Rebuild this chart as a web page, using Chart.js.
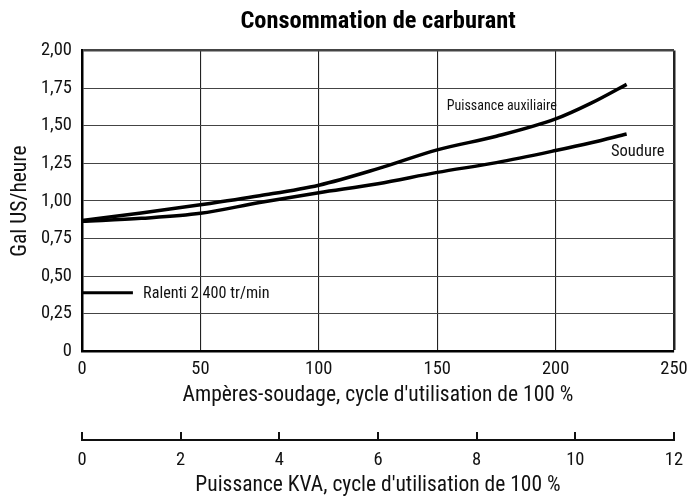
<!DOCTYPE html>
<html>
<head>
<meta charset="utf-8">
<script src="https://cdn.jsdelivr.net/npm/chart.js@4/dist/chart.umd.min.js"></script>
<style>
  html, body { margin: 0; padding: 0; background: #fff; }
  #wrap { width: 689px; height: 496px; }
</style>
</head>
<body>
<div id="wrap"><canvas id="c" width="689" height="496"></canvas></div>
<script>
// ---- Data ----
const ampsX      = [0, 25, 50, 75, 100, 125, 150, 175, 200, 215, 230];
const auxPower   = [0.87, 0.92, 0.975, 1.035, 1.105, 1.215, 1.34, 1.43, 1.545, 1.65, 1.775];
const welding    = [0.865, 0.885, 0.918, 0.99, 1.055, 1.115, 1.19, 1.255, 1.335, 1.387, 1.445];
const idleX      = [0, 21.5];
const idleY      = [0.39, 0.39];
const yTicks     = [0, 0.25, 0.5, 0.75, 1.0, 1.25, 1.5, 1.75, 2.0];
const ampTicks   = [0, 50, 100, 150, 200, 250];
const kvaTicks   = [0, 2, 4, 6, 8, 10, 12];
const labelTexts = ['Puissance auxiliaire', 'Soudure', 'Ralenti 2 400 tr/min'];

const FONT = "'Roboto Condensed', 'DejaVu Sans Condensed', sans-serif";

const toPts = (xs, ys) => xs.map((x, i) => ({ x: x, y: ys[i] }));

// Annotation labels (anchored in data coordinates)
const annotations = [
  { text: labelTexts[0], x: 154, y: 1.625, align: 'left',  size: 14 },
  { text: labelTexts[1], x: 246, y: 1.325, align: 'right', size: 16.5 },
  { text: labelTexts[2], x: 25.8, y: 0.38, align: 'left',  size: 16.2 }
];

const extras = {
  id: 'extras',
  afterDatasetsDraw(chart) {
    const ctx = chart.ctx;
    const xs = chart.scales.x, ys = chart.scales.y, x2 = chart.scales.x2;
    ctx.save();
    ctx.fillStyle = '#111';
    ctx.textBaseline = 'middle';
    annotations.forEach(a => {
      ctx.font = a.size + 'px ' + FONT;
      ctx.textAlign = a.align;
      ctx.fillText(a.text, xs.getPixelForValue(a.x), ys.getPixelForValue(a.y));
    });
    // baseline of the secondary (KVA) axis, ticks rise from it
    const yl = x2.top + 8;
    ctx.strokeStyle = '#111';
    ctx.lineWidth = 2;
    ctx.beginPath();
    ctx.moveTo(x2.getPixelForValue(0) - 1, yl);
    ctx.lineTo(x2.getPixelForValue(12) + 1, yl);
    ctx.stroke();
    ctx.restore();
  }
};

const fitX = h => s => { s.height = h; s.paddingLeft = 0; s.paddingRight = 0; };

new Chart(document.getElementById('c'), {
  type: 'line',
  data: {
    datasets: [
      { label: labelTexts[0], data: toPts(ampsX, auxPower), borderColor: '#000', borderWidth: 3.5,
        pointRadius: 0, cubicInterpolationMode: 'monotone', fill: false, xAxisID: 'x', yAxisID: 'y' },
      { label: labelTexts[1], data: toPts(ampsX, welding), borderColor: '#000', borderWidth: 3.5,
        pointRadius: 0, cubicInterpolationMode: 'monotone', fill: false, xAxisID: 'x', yAxisID: 'y' },
      { label: labelTexts[2], data: toPts(idleX, idleY), borderColor: '#000', borderWidth: 3,
        pointRadius: 0, tension: 0, fill: false, xAxisID: 'x', yAxisID: 'y' }
    ]
  },
  options: {
    responsive: false,
    animation: false,
    layout: { padding: { left: 0, right: 15, top: 0, bottom: 0 } },
    plugins: {
      legend: { display: false },
      tooltip: { enabled: false },
      title: {
        display: true,
        text: 'Consommation de carburant',
        fullSize: false,
        color: '#000',
        font: { family: FONT, size: 24.4, weight: 'bold', lineHeight: 1.2 },
        padding: { top: 7.4, bottom: 13.8 }
      }
    },
    scales: {
      x: {
        type: 'linear', position: 'bottom', weight: 0,
        min: 0, max: 250,
        afterBuildTicks: s => { s.ticks = ampTicks.map(v => ({ value: v })); },
        afterFit: fitX(80.5),
        grid: {
          drawTicks: false,
          color: '#222',
          lineWidth: c => (c.tick && c.tick.value === 250 ? 2.5 : 1.1)
        },
        border: { display: true, color: '#000', width: 2.5 },
        ticks: { color: '#111', padding: 7, font: { family: FONT, size: 18.5 } },
        title: {
          display: true, text: "Ampères-soudage, cycle d'utilisation de 100 %", color: '#111',
          font: { family: FONT, size: 21.5, lineHeight: 1.2 }, padding: { top: 0, bottom: 23.8 }
        }
      },
      x2: {
        type: 'linear', position: 'bottom', weight: 1,
        min: 0, max: 12,
        afterBuildTicks: s => { s.ticks = kvaTicks.map(v => ({ value: v })); },
        afterFit: fitX(64),
        grid: { drawOnChartArea: false, drawTicks: true, tickLength: 8, color: '#111', lineWidth: 2 },
        border: { display: false },
        ticks: { color: '#111', padding: 9, font: { family: FONT, size: 18.5 } },
        title: {
          display: true, text: "Puissance KVA, cycle d'utilisation de 100 %", color: '#111',
          font: { family: FONT, size: 21.5, lineHeight: 1.0 }, padding: { top: 0, bottom: 0 }
        }
      },
      y: {
        type: 'linear', position: 'left',
        min: 0, max: 2,
        afterBuildTicks: s => { s.ticks = yTicks.map(v => ({ value: v })); },
        afterFit: s => { s.width = 82; },
        grid: {
          drawTicks: false,
          color: '#444',
          lineWidth: c => (c.tick && c.tick.value === 2 ? 2.5 : 1.1)
        },
        border: { display: true, color: '#000', width: 2.5 },
        ticks: {
          color: '#111', padding: 10, font: { family: FONT, size: 18.5 },
          callback: v => (v === 0 ? '0' : v.toFixed(2).replace('.', ','))
        },
        title: {
          display: true, text: 'Gal US/heure', color: '#111',
          font: { family: FONT, size: 21.5, lineHeight: 1.2 }, padding: { top: 8, bottom: 0 }
        }
      }
    }
  },
  plugins: [extras]
});
</script>
</body>
</html>
